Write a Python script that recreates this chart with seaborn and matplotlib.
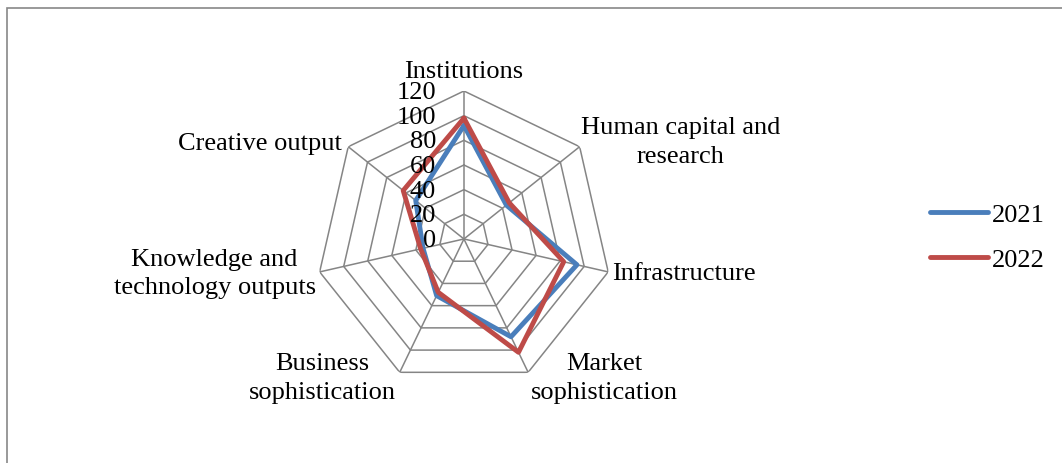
import matplotlib

matplotlib.use("Agg")
import matplotlib.pyplot as plt
import matplotlib.patches as mpatches
import numpy as np
import pandas as pd
import seaborn as sns

categories = [
    "Institutions",
    "Human capital and\nresearch",
    "Infrastructure",
    "Market\nsophistication",
    "Business\nsophistication",
    "Knowledge and\ntechnology outputs",
    "Creative output",
]
values_2021 = [92, 44, 94, 88, 51, 34, 50]
values_2022 = [98, 47, 83, 102, 48, 36, 63]
years = ["2021", "2022"]
tick_values = [0, 20, 40, 60, 80, 100, 120]

# label offsets in pixels from each outer vertex (dx, dy, ha)
label_offsets = [(0, 20, "center"), (101, 5, "center"), (4, -1, "left"), (76, -5, "center"),
                 (-77, -5, "center"), (-105, -1, "center"), (-88, 4, "center")]

sns.set_theme(style="white")
plt.rcParams["font.family"] = ["Liberation Serif", "DejaVu Serif"]
plt.rcParams["text.color"] = "black"
FS = 19

n = len(categories)
theta = np.linspace(0, 2 * np.pi, n, endpoint=False)
theta_closed = np.append(theta, theta[0])

rows = []
for year, vals in zip(years, [values_2021, values_2022]):
    for t, v in zip(theta_closed, vals + vals[:1]):
        rows.append({"theta": t, "value": v, "year": year})
df = pd.DataFrame(rows)

fig = plt.figure(figsize=(10.62, 4.64), dpi=100)
ax = fig.add_axes([0.2975, 0.1638, 0.2787, 0.638], projection="polar")
ax.set_theta_zero_location("N")
ax.set_theta_direction(-1)
ax.set_ylim(0, 120)
ax.grid(False)
ax.spines["polar"].set_visible(False)
ax.set_xticks([])
ax.set_yticks([])
ax.patch.set_alpha(0)

grid_color = "#858585"
for r in tick_values[1:]:
    ax.plot(theta_closed, [r] * (n + 1), color=grid_color, lw=1.1, zorder=1)
for t in theta:
    ax.plot([t, t], [0, 120], color=grid_color, lw=1.1, zorder=1)

sns.lineplot(data=df, x="theta", y="value", hue="year", sort=False, estimator=None,
             palette=["#4A7EBB", "#BE4B48"], linewidth=3.5, ax=ax, legend=False, zorder=3)
ax.set_xlabel("")
ax.set_ylabel("")

for r in tick_values:
    ax.annotate(str(r), xy=(0, r), xytext=(-28, -1), textcoords="offset pixels",
                ha="right", va="center", fontsize=FS, color="black", zorder=4)

for t, label, (dx, dy, ha) in zip(theta, categories, label_offsets):
    ax.annotate(label, xy=(t, 120), xytext=(dx, dy), textcoords="offset pixels",
                ha=ha, va="center", multialignment="center", fontsize=FS, color="black",
                linespacing=1.4, annotation_clip=False)

handles = [plt.Line2D([], [], color=c, lw=3.5, solid_capstyle="round") for c in ["#4A7EBB", "#BE4B48"]]
fig.legend(handles, years, loc="center left", bbox_to_anchor=(0.8757, 0.487), frameon=False,
           fontsize=FS, handlelength=2.2, handletextpad=0.15, labelspacing=0.8,
           borderpad=0, borderaxespad=0, labelcolor="black")

frame = mpatches.Rectangle((6.5 / 1062, -0.1), 1.2, 0.1 + (464 - 9) / 464, transform=fig.transFigure,
                           fill=False, edgecolor="#878787", lw=1.2)
fig.patches.append(frame)

fig.savefig("out.png", dpi=100)
